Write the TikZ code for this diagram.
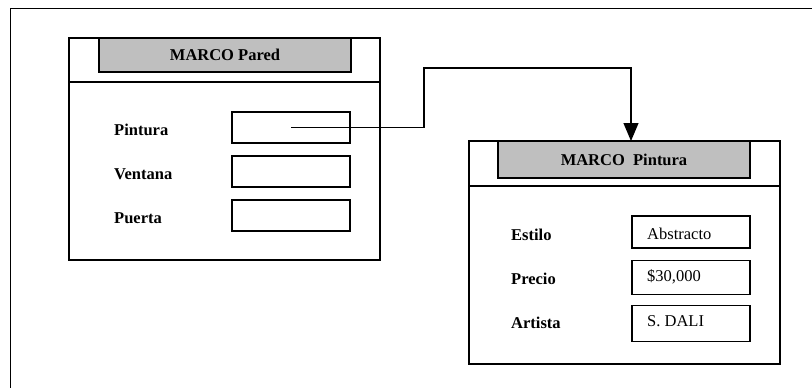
\documentclass[tikz,border=0pt]{standalone}
\usepackage{fontspec}
\setmainfont{Liberation Serif}
\usetikzlibrary{positioning,arrows.meta}

\tikzset{
  marco/.style={draw, line width=1.2pt, minimum width=311pt, inner sep=0pt},
  titulo/.style={draw, fill=gray!50, line width=1.2pt, minimum width=252pt, inner sep=0pt,
    font=\bfseries\fontsize{16.5}{19}\selectfont},
  campo/.style={draw, line width=1.2pt, minimum width=118pt, minimum height=31pt, inner sep=0pt},
  etiqueta/.style={anchor=west, inner sep=0pt, font=\bfseries\fontsize{16.5}{19}\selectfont},
  valor/.style={anchor=west, inner sep=0pt, font=\fontsize{16.5}{19}\selectfont},
}

\begin{document}
\begin{tikzpicture}[x=1pt, y=-1pt]
    \useasboundingbox (0,0) rectangle (812,388);
    \draw[line width=1pt] (812,8) -- (10,8) -- (10,388);
    % marco pared
    \node[marco, minimum height=222pt] (pared) at (224.5,149) {};
    \node[titulo, minimum height=34pt] (paredtit) at (225,55) {MARCO Pared};
    \draw[line width=1.2pt] (69,82) -- (380,82);
    \node[campo] (pintura) at (291,127.5) {};
    \node[campo] (ventana) at (291,171.5) {};
    \node[campo] (puerta) at (291,215.5) {};
    \node[etiqueta] (lpintura) at (114,130) {Pintura};
    \node[etiqueta] (lventana) at (114,174) {Ventana};
    \node[etiqueta] (lpuerta) at (114,218) {Puerta};
    % marco pintura
    \node[marco, minimum height=223pt] (cuadro) at (624.5,252.5) {};
    \node[titulo, minimum height=37pt] (cuadrotit) at (624,159.5) {MARCO\ \ Pintura};
    \draw[line width=1.2pt] (469,186) -- (780,186);
    \node[campo, minimum height=32pt] (estilo) at (691,232) {};
    \node[campo, minimum height=34pt] (precio) at (691,277.5) {};
    \node[campo, minimum height=36pt] (artista) at (691,323.5) {};
    \node[etiqueta] (lestilo) at (511,235) {Estilo};
    \node[etiqueta] (lprecio) at (511,279) {Precio};
    \node[etiqueta] (lartista) at (511,323) {Artista};
    \node[valor] (vestilo) at (647,234) {Abstracto};
    \node[valor] (vprecio) at (647,277) {\$30,000};
    \node[valor] (vartista) at (647,321) {S. DALI};
    % enlace
    \coordinate (codo) at (424,68);
    \coordinate (punta) at (631,141);
    \draw[line width=1.1pt, -{Triangle[width=15pt,length=18pt]}] (pintura.center) -| (codo) -| (punta);
\end{tikzpicture}
\end{document}
